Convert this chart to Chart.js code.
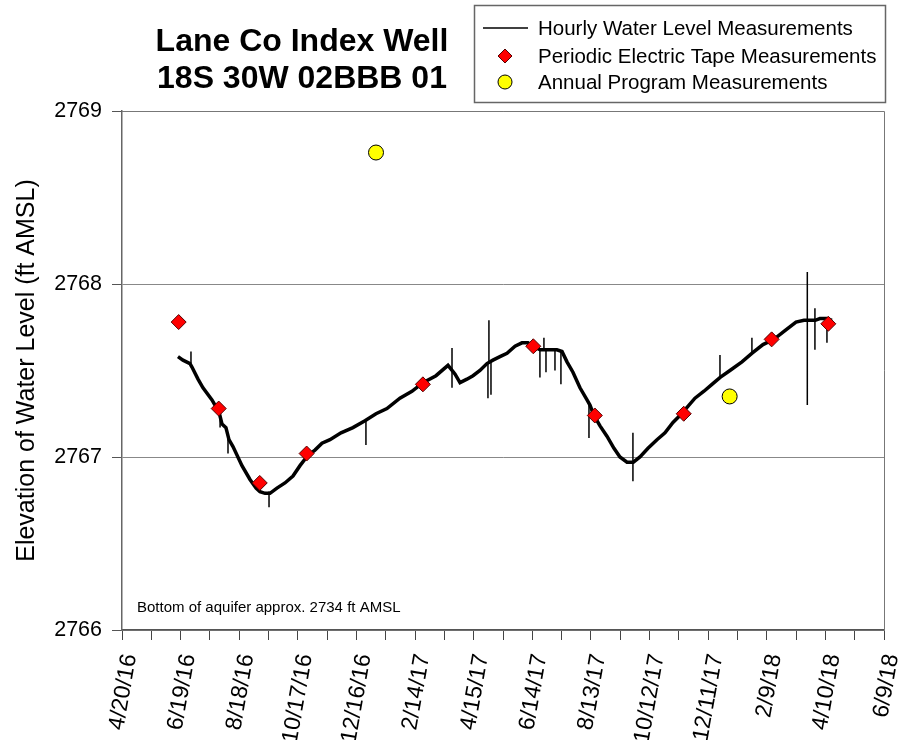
<!DOCTYPE html>
<html>
<head>
<meta charset="utf-8">
<title>Lane Co Index Well</title>
<script src="https://cdn.jsdelivr.net/npm/chart.js@4.4.1/dist/chart.umd.min.js"></script>
<style>
  body { margin: 0; background: #fff; }
  #wrap { width: 899px; height: 740px; position: relative; }
</style>
</head>
<body>
<div id="wrap"><canvas id="wellChart"></canvas></div>
<script>
// x values are days since 4/20/16 (the first tick on the date axis)
const startDate = Date.UTC(2016, 3, 20);

// hourly water level trace
const hourlyDay = [
  57.3, 62.4, 69.6, 71.6, 77.8, 82.9, 92.1, 99.3, 102.4, 106.4, 109.5,
  113.6, 122.8, 131.0, 137.2, 141.2, 146.4, 151.5, 158.6, 166.8, 175.0, 182.2,
  190.4, 197.5, 204.7, 212.9, 224.2, 236.4, 248.7, 260.0, 271.2, 284.5, 296.8,
  308.1, 321.4, 333.7, 340.8, 346.0, 353.1, 359.3, 366.4, 373.6,
  379.7, 386.9, 394.1, 402.3, 409.4, 415.6, 420.7, 428.0, 436.0, 445.2, 450.4,
  455.5, 461.6, 468.8, 476.0, 479.0, 483.1, 489.3,
  496.4, 503.6, 509.7, 516.9, 523.4, 530.2, 538.4, 547.6, 555.8, 564.0, 571.1,
  577.3, 586.5, 595.7, 603.9, 612.3, 622.3, 634.6, 645.0, 656.1,
  667.3, 678.6, 689.9, 698.1, 704.2, 709.6, 714.4, 721.9, 726.7
];
const hourlyLevel = [
  2767.58, 2767.56, 2767.54, 2767.52, 2767.45, 2767.40, 2767.33, 2767.26, 2767.19, 2767.17, 2767.10,
  2767.06, 2766.95, 2766.87, 2766.82, 2766.80, 2766.79, 2766.79, 2766.82, 2766.85, 2766.89, 2766.95,
  2767.01, 2767.04, 2767.08, 2767.10, 2767.14, 2767.17, 2767.21, 2767.25, 2767.28, 2767.34, 2767.38,
  2767.43, 2767.47, 2767.53, 2767.48, 2767.43, 2767.45, 2767.47, 2767.50, 2767.54,
  2767.56, 2767.58, 2767.60, 2767.64, 2767.66, 2767.66, 2767.64, 2767.62, 2767.62, 2767.62, 2767.61,
  2767.55, 2767.49, 2767.40, 2767.33, 2767.30, 2767.24, 2767.18,
  2767.12, 2767.05, 2767.00, 2766.97, 2766.97, 2767.00, 2767.05, 2767.10, 2767.14, 2767.20, 2767.24,
  2767.28, 2767.34, 2767.38, 2767.42, 2767.46, 2767.50, 2767.55, 2767.60, 2767.65,
  2767.68, 2767.73, 2767.78, 2767.79, 2767.79, 2767.79, 2767.80, 2767.80, 2767.79
];

// short spikes in the hourly record: day, low end, high end
const spikeDay = [70.6, 100.4, 108.5, 150.5, 249.7, 337.8, 374.6, 375.6, 377.7, 427.8, 431.9, 434.0, 443.2, 449.3, 478.0, 523.0, 612.1, 644.8, 701.5, 709.3, 721.6];
const spikeLow = [2767.54, 2767.17, 2767.02, 2766.71, 2767.07, 2767.40, 2767.34, 2767.54, 2767.36, 2767.46, 2767.62, 2767.49, 2767.50, 2767.42, 2767.11, 2766.86, 2767.46, 2767.60, 2767.30, 2767.62, 2767.66];
const spikeHigh = [2767.61, 2767.26, 2767.12, 2766.80, 2767.21, 2767.63, 2767.54, 2767.79, 2767.55, 2767.62, 2767.69, 2767.62, 2767.62, 2767.61, 2767.32, 2767.14, 2767.59, 2767.69, 2768.07, 2767.86, 2767.80];

const tapeDates = ['6/17/16', '7/28/16', '9/8/16', '10/26/16', '2/22/17', '6/15/17', '8/17/17', '11/16/17', '2/14/18', '4/13/18'];
const tapeLevel = [2767.78, 2767.28, 2766.85, 2767.02, 2767.42, 2767.64, 2767.24, 2767.25, 2767.68, 2767.77];

const annualDates = ['1/5/17', '1/2/18'];
const annualLevel = [2768.76, 2767.35];

const seriesNames = ['Hourly Water Level Measurements', 'Periodic Electric Tape Measurements', 'Annual Program Measurements'];
const titleLines = ['Lane Co Index Well', '18S 30W 02BBB 01'];
const noteText = 'Bottom of aquifer approx. 2734 ft AMSL';

function toDay(str) {
    const [m, d, y] = str.split('/').map(Number);
    return (Date.UTC(2000 + y, m - 1, d) - startDate) / 86400000;
}

function dayLabel(day) {
    const dt = new Date(startDate + day * 86400000);
    return (dt.getUTCMonth() + 1) + '/' + dt.getUTCDate() + '/' + (dt.getUTCFullYear() % 100);
}

// spikes as separate vertical strokes, split by nulls
const spikePoints = [];
spikeDay.forEach((d, i) => {
    spikePoints.push({ x: d, y: spikeLow[i] }, { x: d, y: spikeHigh[i] }, { x: d, y: null });
});

const FONT = '"Liberation Sans", Arial, sans-serif';
Chart.defaults.font.family = FONT;
Chart.defaults.color = '#000';

// title, legend box, note and plot frame
const decorations = {
    id: 'decorations',
    beforeDatasetsDraw(chart) {
        const { ctx, chartArea: a } = chart;
        ctx.save();
        ctx.strokeStyle = '#777';
        ctx.lineWidth = 1;
        ctx.beginPath();
        ctx.moveTo(a.left, a.top + 0.5);
        ctx.lineTo(a.right + 0.5, a.top + 0.5);
        ctx.lineTo(a.right + 0.5, a.bottom);
        ctx.stroke();

        ctx.fillStyle = '#000';
        ctx.font = '15px ' + FONT;
        ctx.textAlign = 'left';
        ctx.textBaseline = 'alphabetic';
        ctx.fillText(noteText, 137, 612);
        ctx.restore();
    },
    afterDraw(chart) {
        const { ctx } = chart;
        ctx.save();
        ctx.fillStyle = '#000';
        ctx.font = 'bold 32px ' + FONT;
        ctx.textAlign = 'center';
        ctx.textBaseline = 'alphabetic';
        ctx.fillText(titleLines[0], 302, 51);
        ctx.fillText(titleLines[1], 302, 88);

        // legend
        ctx.strokeStyle = '#666';
        ctx.lineWidth = 1.5;
        ctx.strokeRect(474.5, 5.5, 411, 97);
        const rows = [28, 56, 82];
        ctx.strokeStyle = '#000';
        ctx.lineWidth = 1.5;
        ctx.beginPath();
        ctx.moveTo(483, rows[0]);
        ctx.lineTo(528, rows[0]);
        ctx.stroke();

        ctx.fillStyle = '#ff0000';
        ctx.strokeStyle = '#550000';
        ctx.lineWidth = 1;
        ctx.beginPath();
        ctx.moveTo(505, rows[1] - 7);
        ctx.lineTo(512, rows[1]);
        ctx.lineTo(505, rows[1] + 7);
        ctx.lineTo(498, rows[1]);
        ctx.closePath();
        ctx.fill();
        ctx.stroke();

        ctx.fillStyle = '#ffff00';
        ctx.strokeStyle = '#000';
        ctx.beginPath();
        ctx.arc(505, rows[2], 7, 0, Math.PI * 2);
        ctx.fill();
        ctx.stroke();

        ctx.fillStyle = '#000';
        ctx.font = '20.5px ' + FONT;
        ctx.textAlign = 'left';
        ctx.textBaseline = 'middle';
        seriesNames.forEach((name, i) => ctx.fillText(name, 538, rows[i] + 1));
        ctx.restore();
    }
};

const ctx = document.getElementById('wellChart').getContext('2d');
const chart = new Chart(ctx, {
    type: 'scatter',
    data: {
        datasets: [
            {
                label: seriesNames[0],
                data: hourlyDay.map((d, i) => ({ x: d, y: hourlyLevel[i] })),
                showLine: true,
                borderColor: '#000',
                borderWidth: 3.5,
                pointRadius: 0,
                order: 4
            },
            {
                label: 'spikes',
                data: spikePoints,
                showLine: true,
                spanGaps: false,
                borderColor: '#000',
                borderWidth: 1.5,
                pointRadius: 0,
                order: 3
            },
            {
                label: seriesNames[1],
                data: tapeDates.map((s, i) => ({ x: toDay(s), y: tapeLevel[i] })),
                pointStyle: 'rectRot',
                pointRadius: 7.5,
                backgroundColor: '#ff0000',
                borderColor: '#550000',
                borderWidth: 1,
                order: 2
            },
            {
                label: seriesNames[2],
                data: annualDates.map((s, i) => ({ x: toDay(s), y: annualLevel[i] })),
                pointStyle: 'circle',
                pointRadius: 7.5,
                backgroundColor: '#ffff00',
                borderColor: '#000',
                borderWidth: 1,
                order: 1
            }
        ]
    },
    options: {
        responsive: true,
        maintainAspectRatio: false,
        animation: false,
        events: [],
        layout: { padding: { top: 111, right: 15, left: 0, bottom: 0 } },
        plugins: {
            legend: { display: false },
            tooltip: { enabled: false }
        },
        scales: {
            x: {
                type: 'linear',
                min: 0,
                max: 780,
                afterFit(scale) {
                    scale.height = 110;
                    scale.paddingLeft = 0;
                    scale.paddingRight = 0;
                },
                ticks: {
                    stepSize: 30,
                    autoSkip: false,
                    minRotation: 80,
                    maxRotation: 80,
                    padding: 12,
                    labelOffset: 8,
                    font: { size: 23 },
                    callback: (v) => (v % 60 === 0 ? dayLabel(v) : '')
                },
                grid: {
                    drawOnChartArea: false,
                    drawTicks: true,
                    tickLength: 10,
                    tickColor: '#444',
                    color: '#444'
                },
                border: { color: '#555', width: 1.5 }
            },
            y: {
                min: 2766,
                max: 2769,
                afterFit(scale) {
                    scale.width = 122;
                    scale.paddingTop = 0;
                    scale.paddingBottom = 0;
                },
                ticks: {
                    stepSize: 1,
                    padding: 10,
                    font: { size: 21.5 },
                    callback: (v) => String(v)
                },
                grid: {
                    color: '#888',
                    tickColor: '#555',
                    tickLength: 10
                },
                border: { color: '#666', width: 1.5 },
                title: {
                    display: true,
                    text: 'Elevation of Water Level (ft AMSL)',
                    font: { size: 25 },
                    padding: { top: 12, bottom: 0 }
                }
            }
        }
    },
    plugins: [decorations]
});
</script>
</body>
</html>
